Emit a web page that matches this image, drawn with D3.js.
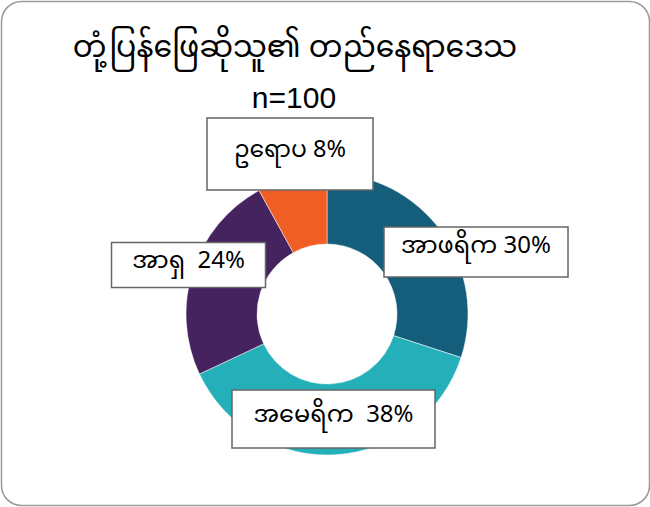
<!DOCTYPE html>
<html>
<head>
<meta charset="utf-8">
<script src="https://cdn.jsdelivr.net/npm/d3@7"></script>
<style>
  html, body { margin: 0; padding: 0; background: #fff; }
  svg { display: block; }
  text.lbl { white-space: pre; }
</style>
</head>
<body>
<svg id="chart" width="650" height="507"></svg>
<script>
const titleText = "တုံ့ပြန်ဖြေဆိုသူ၏ တည်နေရာဒေသ";
const subtitleText = "n=100";
const categories = ["အာဖရိက", "အမေရိက", "အာရှ", "ဥရောပ"];
const values = [30, 38, 24, 8];
const colors = ["#155E7B", "#25B0B9", "#45235F", "#F15E25"];
const labelSep = [" ", "  ", "  ", " "];

const svg = d3.select("#chart");
const myFont = "'Noto Sans Myanmar', 'Myanmar Text', 'Padauk', 'Noto Sans', sans-serif";

// frame
svg.append("rect")
  .attr("x", 1.5).attr("y", 1.5)
  .attr("width", 648).attr("height", 504)
  .attr("rx", 20).attr("ry", 20)
  .attr("fill", "#fff").attr("stroke", "#9a9a9a").attr("stroke-width", 1.5);

// title
svg.append("text")
  .attr("x", 295).attr("y", 57)
  .attr("text-anchor", "middle")
  .attr("font-family", myFont)
  .attr("font-size", 30)
  .attr("fill", "#000")
  .text(titleText);

svg.append("text")
  .attr("x", 294).attr("y", 108)
  .attr("text-anchor", "middle")
  .attr("font-family", "Arial, 'Liberation Sans', sans-serif")
  .attr("font-size", 30)
  .attr("fill", "#000")
  .text(subtitleText);

const cx = 327, cy = 314, outerR = 141, innerR = 70;
const data = categories.map((c, i) => ({ cat: c, value: values[i], color: colors[i], sep: labelSep[i] }));

const pie = d3.pie().sort(null).value(d => d.value);
const arc = d3.arc().innerRadius(innerR).outerRadius(outerR);

const g = svg.append("g").attr("transform", `translate(${cx},${cy})`);
const arcs = pie(data);
g.selectAll("path.slice")
  .data(arcs)
  .join("path")
  .attr("class", "slice")
  .attr("d", arc)
  .attr("fill", d => d.data.color)
  .attr("stroke", "#fff")
  .attr("stroke-width", 0.5);

// label boxes
const boxPos = [
  { x: 476, y: 252, w: 184, h: 50, base: 253, fs: 24 },
  { x: 333.5, y: 419, w: 203, h: 58, base: 422, fs: 24 },
  { x: 188.5, y: 265, w: 154, h: 45, base: 268, fs: 24 },
  { x: 290, y: 154, w: 166, h: 72, base: 157, fs: 23.5 }
];

const lab = svg.append("g");
arcs.forEach((a, i) => {
  const b = boxPos[i];
  lab.append("rect")
    .attr("x", b.x - b.w / 2).attr("y", b.y - b.h / 2)
    .attr("width", b.w).attr("height", b.h)
    .attr("fill", "#fff").attr("stroke", "#666").attr("stroke-width", 1.5);
  lab.append("text")
    .attr("class", "lbl")
    .attr("x", b.x).attr("y", b.base)
    .attr("text-anchor", "middle")
    .attr("font-family", myFont)
    .attr("font-size", b.fs)
    .attr("fill", "#000")
    .text(a.data.cat + a.data.sep + d3.format(".0%")(a.data.value / 100));
});
</script>
</body>
</html>
